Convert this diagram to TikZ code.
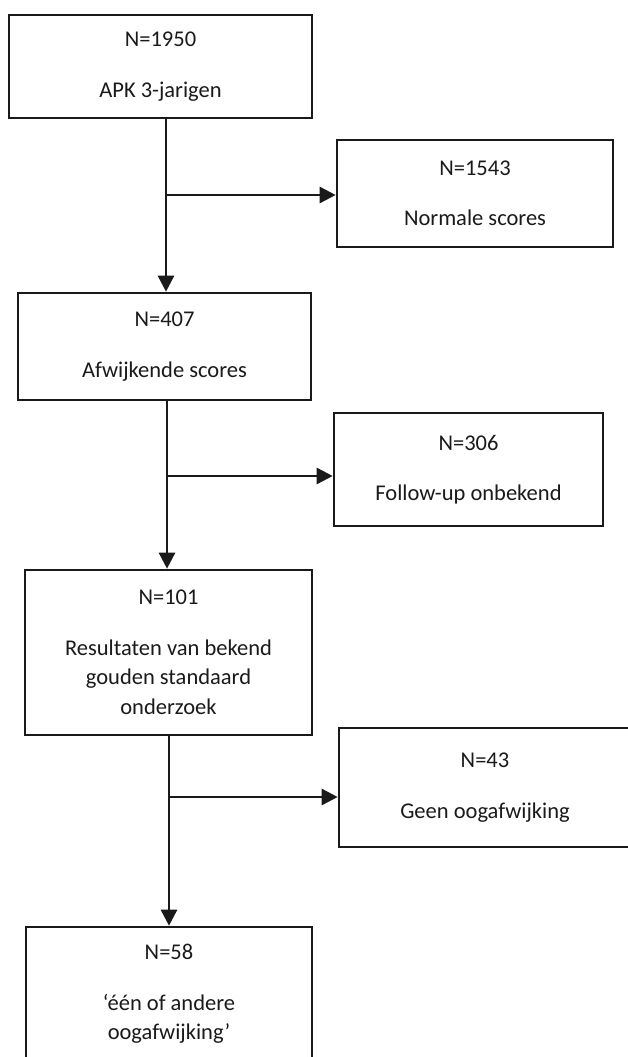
\documentclass[tikz,border=0pt]{standalone}
\usepackage{fontspec}
\setmainfont{Carlito}
\usepackage{tikz}
\usetikzlibrary{arrows.meta,positioning}
\definecolor{inkt}{HTML}{1A1A1A}

\begin{document}
\begin{tikzpicture}[x=1pt, y=-1pt,
    font=\fontsize{22.5}{29.5}\selectfont,
    blok/.style={rectangle, draw=inkt, line width=2.6pt, text=inkt,
      align=center, inner sep=0pt},
    pijl/.style={-{Triangle[length=16pt,width=16pt]}, draw=inkt, line width=2.6pt},
    lijn/.style={draw=inkt, line width=2.6pt}
  ]
    \useasboundingbox (0,0) rectangle (628,1057);
    \node[blok, minimum width=303pt, minimum height=103pt] (b1) at (160.5,66.5)
      {N=1950\\[21pt]APK 3-jarigen};
    \node[blok, minimum width=276pt, minimum height=107pt] (n1) at (475,193.5)
      {N=1543\\[21pt]Normale scores};
    \node[blok, minimum width=293pt, minimum height=107pt] (b2) at (164.5,346.5)
      {N=407\\[21pt]Afwijkende scores};
    \node[blok, minimum width=269pt, minimum height=113pt] (n2) at (468.5,469.5)
      {N=306\\[21pt]Follow-up onbekend};
    \node[blok, minimum width=287pt, minimum height=165pt] (b3) at (168.5,652.5)
      {N=101\\[21pt]Resultaten van bekend\\gouden standaard\\onderzoek};
    \node[blok, minimum width=292pt, minimum height=119pt] (n3) at (485,787.5)
      {N=43\\[21pt]Geen oogafwijking};
    \node[blok, minimum width=286pt, minimum height=134pt] (b4) at (169,994)
      {N=58\\[21pt]‘één of andere\\oogafwijking’};
    \coordinate (j1) at (166,195);
    \coordinate (j2) at (167,476);
    \coordinate (j3) at (169,797);
    \draw[lijn] (b1.south -| j1) -- (j1);
    \draw[pijl] (j1) -- (b2.north -| j1);
    \draw[pijl] (j1) -- (n1.west |- j1);
    \draw[lijn] (b2.south -| j2) -- (j2);
    \draw[pijl] (j2) -- (b3.north -| j2);
    \draw[pijl] (j2) -- (n2.west |- j2);
    \draw[lijn] (b3.south -| j3) -- (j3);
    \draw[pijl] (j3) -- (b4.north -| j3);
    \draw[pijl] (j3) -- (n3.west |- j3);
  \end{tikzpicture}
\end{document}
